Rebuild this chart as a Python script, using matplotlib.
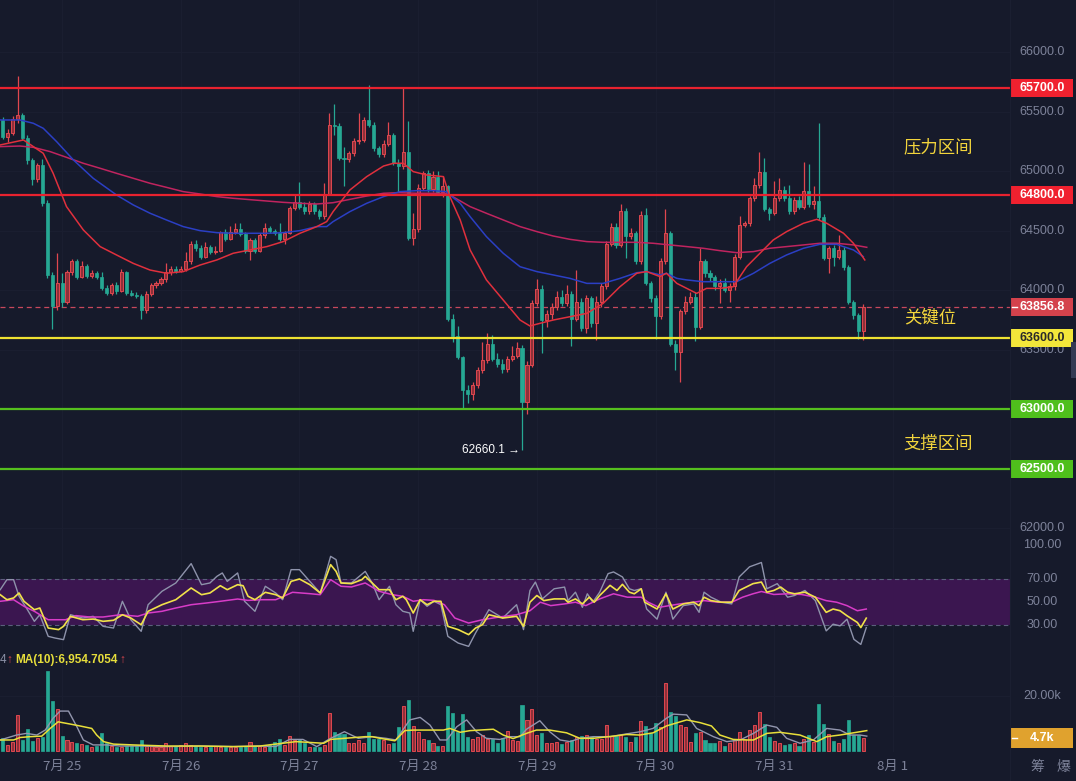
import numpy as np
import matplotlib
matplotlib.use("Agg")
import matplotlib.pyplot as plt
import matplotlib.transforms as mtrans
from matplotlib.patches import Rectangle
from matplotlib.lines import Line2D

plt.rcParams['font.family'] = ['Liberation Sans', 'Noto Sans CJK SC', 'DejaVu Sans']

# ---------------- data: 1h candles, 7/24 12:00 .. 7/31 18:00 (red = up, green = down) ----------------
opens = [65430, 65290, 65320, 65440, 65470, 65280, 65090, 64930, 65050, 64730,
         64130, 63870, 64060, 63900, 64150, 64240, 64110, 64200, 64120, 64140,
         64110, 64020, 63975, 64040, 63990, 64150, 63975, 63960, 63950, 63830,
         63970, 64040, 64060, 64090, 64150, 64180, 64160, 64180, 64240, 64390,
         64350, 64280, 64360, 64320, 64330, 64490, 64430, 64490, 64510, 64470,
         64330, 64420, 64330, 64460, 64520, 64500, 64480, 64430, 64480, 64690,
         64740, 64700, 64660, 64720, 64660, 64620, 64810, 65390, 65380, 65110,
         65100, 65150, 65250, 65260, 65430, 65390, 65190, 65140, 65230, 65300,
         65070, 65040, 65160, 64440, 64510, 64860, 64980, 64850, 64950, 64820,
         64870, 63760, 63610, 63440, 63160, 63130, 63200, 63330, 63410, 63550,
         63420, 63380, 63340, 63420, 63450, 63510, 63060, 63370, 63890, 64010,
         63750, 63800, 63860, 63940, 63890, 63970, 63760, 63900, 63680, 63930,
         63720, 63900, 64030, 64390, 64530, 64380, 64660, 64450, 64480, 64240,
         64630, 64060, 63930, 63780, 64240, 64480, 63550, 63480, 63820, 63900,
         63945, 63690, 64240, 64140, 64110, 64030, 64060, 64000, 64030, 64280,
         64550, 64560, 64770, 64880, 64990, 64680, 64650, 64770, 64840, 64770,
         64660, 64760, 64700, 64830, 64720, 64750, 64610, 64270, 64350, 64280,
         64340, 64190, 63900, 63790, 63660]
highs = [65450, 65350, 65460, 65800, 65490, 65300, 65110, 65070, 65100, 64760,
         64150, 64310, 64140, 64170, 64260, 64260, 64240, 64220, 64170, 64160,
         64150, 64040, 64060, 64070, 64180, 64160, 64000, 63980, 63970, 63990,
         64060, 64080, 64110, 64230, 64200, 64200, 64200, 64320, 64410, 64420,
         64380, 64400, 64380, 64370, 64500, 64510, 64540, 64560, 64560, 64490,
         64440, 64440, 64480, 64560, 64540, 64510, 64560, 64500, 64710, 64810,
         64910, 64740, 64750, 64740, 64680, 64900, 65490, 65560, 65400, 65200,
         65170, 65280, 65490, 65450, 65720, 65410, 65210, 65260, 65410, 65320,
         65100, 65700, 65420, 64650, 64890, 65000, 65010, 65000, 65000, 64960,
         64880, 63800, 63700, 63450, 63200, 63230, 63350, 63560, 63640, 63620,
         63470, 63420, 63450, 63530, 63560, 63540, 63400, 63920, 64090, 64040,
         63830, 63890, 63990, 64000, 64040, 63990, 64170, 63930, 63960, 63950,
         63950, 64060, 64410, 64560, 64560, 64720, 64690, 64520, 64500, 64660,
         64690, 64080, 63960, 64270, 64680, 64500, 63580, 63840, 63950, 63980,
         63980, 64350, 64260, 64170, 64130, 64090, 64100, 64060, 64300, 64620,
         64580, 64790, 64940, 65160, 65110, 64700, 64920, 64940, 64870, 64880,
         64780, 64790, 65080, 65060, 64870, 65400, 64640, 64370, 64380, 64460,
         64360, 64210, 63920, 63810, 63880]
lows = [65270, 65240, 65300, 65400, 65260, 65060, 64880, 64910, 64710, 64100,
        63670, 63830, 63860, 63880, 64130, 64090, 64100, 64100, 64100, 64090,
        64000, 63960, 63960, 63970, 63980, 63960, 63950, 63930, 63760, 63810,
        63950, 64020, 64040, 64070, 64130, 64140, 64150, 64160, 64220, 64330,
        64260, 64270, 64300, 64300, 64320, 64410, 64420, 64470, 64450, 64310,
        64250, 64310, 64320, 64440, 64480, 64460, 64410, 64390, 64470, 64670,
        64680, 64640, 64640, 64640, 64600, 64600, 64800, 65300, 65090, 64870,
        65080, 65130, 65230, 65240, 65370, 65170, 65120, 65120, 65210, 65050,
        64820, 65020, 64420, 64380, 64490, 64840, 64820, 64820, 64800, 64780,
        63740, 63560, 63420, 63000, 63050, 63080, 63180, 63300, 63390, 63400,
        63350, 63300, 63310, 63400, 63430, 62660.1, 62960, 63350, 63870, 63470,
        63690, 63760, 63830, 63870, 63870, 63530, 63740, 63660, 63640, 63690,
        63580, 63860, 64010, 64370, 64350, 64360, 64270, 64430, 64220, 64220,
        64040, 63900, 63590, 63760, 64220, 63530, 63330, 63230, 63800, 63880,
        63570, 63670, 64110, 64080, 64000, 63890, 63980, 63900, 64000, 64260,
        64530, 64540, 64750, 64860, 64660, 64590, 64630, 64750, 64750, 64640,
        64640, 64680, 64680, 64700, 64680, 64590, 64250, 64140, 64200, 64260,
        64170, 63880, 63760, 63590, 63580]
closes = [65290, 65320, 65440, 65470, 65280, 65090, 64930, 65050, 64730, 64130,
          63870, 64060, 63900, 64150, 64240, 64110, 64200, 64120, 64140, 64110,
          64020, 63975, 64040, 63990, 64150, 63975, 63960, 63950, 63830, 63970,
          64040, 64060, 64090, 64150, 64180, 64160, 64180, 64240, 64390, 64350,
          64280, 64360, 64320, 64330, 64490, 64430, 64490, 64510, 64470, 64330,
          64420, 64330, 64460, 64520, 64500, 64480, 64430, 64480, 64690, 64740,
          64700, 64660, 64720, 64660, 64620, 64810, 65390, 65380, 65110, 65100,
          65150, 65250, 65260, 65430, 65390, 65190, 65140, 65230, 65300, 65070,
          65040, 65160, 64440, 64510, 64860, 64980, 64850, 64950, 64820, 64870,
          63760, 63610, 63440, 63160, 63130, 63200, 63330, 63410, 63550, 63420,
          63380, 63340, 63420, 63450, 63510, 63060, 63370, 63890, 64010, 63750,
          63800, 63860, 63940, 63890, 63970, 63760, 63900, 63680, 63930, 63720,
          63900, 64030, 64390, 64530, 64380, 64660, 64450, 64480, 64240, 64630,
          64060, 63930, 63780, 64240, 64480, 63550, 63480, 63820, 63900, 63945,
          63690, 64240, 64140, 64110, 64030, 64060, 64000, 64030, 64280, 64550,
          64560, 64770, 64880, 64990, 64680, 64650, 64770, 64840, 64770, 64660,
          64760, 64700, 64830, 64720, 64750, 64610, 64270, 64350, 64280, 64340,
          64190, 63900, 63790, 63660, 63856.8]
volumes = [4.5, 2.1, 3.3, 13.0, 3.9, 7.8, 3.5, 4.5, 5.1, 29.0,
           18.1, 15.0, 5.3, 3.9, 3.3, 2.7, 2.3, 2.1, 1.5, 1.7,
           6.5, 2.7, 1.7, 1.5, 1.5, 1.7, 1.7, 1.7, 3.9, 1.7,
           1.7, 1.2, 1.5, 2.7, 1.7, 1.7, 2.1, 2.7, 2.1, 1.7,
           1.5, 1.5, 1.5, 1.7, 1.5, 1.2, 1.5, 1.2, 1.5, 1.7,
           3.1, 1.7, 1.7, 1.5, 2.1, 3.1, 4.1, 2.1, 5.3, 3.9,
           4.4, 2.7, 1.5, 1.2, 1.5, 2.2, 13.8, 6.9, 6.1, 6.1,
           2.7, 2.7, 3.9, 2.7, 6.9, 4.4, 4.4, 3.9, 2.4, 2.9,
           8.5, 16.2, 18.4, 9.0, 6.9, 4.2, 3.9, 2.9, 1.7, 1.7,
           16.2, 13.8, 6.9, 13.3, 5.1, 4.2, 5.1, 5.7, 4.1, 4.1,
           2.9, 4.5, 7.3, 3.9, 3.6, 16.6, 11.2, 15.2, 5.7, 6.5,
           2.9, 2.9, 3.3, 2.4, 3.3, 3.9, 5.1, 5.3, 5.7, 5.1,
           4.1, 4.1, 9.3, 5.3, 5.3, 5.7, 5.1, 3.3, 5.1, 10.9,
           9.0, 6.3, 9.9, 8.7, 24.7, 14.2, 12.6, 9.3, 8.5, 3.3,
           6.5, 6.9, 3.9, 2.7, 2.7, 3.6, 1.7, 2.9, 4.1, 6.9,
           4.1, 7.5, 9.3, 14.2, 9.7, 5.1, 3.6, 2.9, 2.1, 2.4,
           2.7, 1.7, 4.1, 5.7, 3.3, 16.8, 9.7, 6.1, 3.6, 2.7,
           4.1, 11.2, 5.7, 5.7, 4.7]   # thousands

# price moving averages (candle index, price)
ma_red_x = [-0.5, 4.2, 8.2, 10.2, 12.9, 16.3, 19.7, 23.0, 26.4, 29.8, 33.1, 36.5, 39.9, 43.3, 46.6,
            50.0, 53.4, 56.7, 60.1, 63.5, 65.5, 66.8, 70.2, 73.6, 77.0, 79.0, 81.0, 83.0, 85.7, 89.1,
            90.4, 92.5, 94.5, 97.8, 101.2, 104.6, 106.6, 108.6, 111.3, 114.7, 118.1, 121.4, 124.8,
            128.2, 130.2, 132.9, 134.2, 136.3, 138.3, 140.3, 142.3, 145.0, 147.7, 150.4, 153.1,
            155.8, 158.5, 161.9, 164.6, 166.6, 170.0, 172.0, 174.3]
ma_red_y = [65219, 65261, 65149, 64981, 64701, 64505, 64365, 64295, 64224, 64168, 64141, 64155, 64210,
            64253, 64309, 64337, 64365, 64407, 64477, 64533, 64575, 64659, 64841, 64953, 65042, 65065,
            65065, 64995, 64967, 64953, 64785, 64589, 64337, 64085, 63916, 63748, 63698, 63720, 63748,
            63776, 63804, 63888, 64028, 64141, 64155, 64113, 64141, 64056, 64014, 63972, 64014, 64014,
            64028, 64196, 64309, 64421, 64491, 64561, 64594, 64561, 64477, 64393, 64253]
ma_blue_x = [-0.5, 3.5, 6.2, 8.2, 10.9, 14.3, 18.3, 23.0, 26.4, 29.8, 33.1, 36.5, 39.9, 43.3, 46.6,
             53.4, 56.7, 60.1, 63.5, 65.5, 66.8, 70.2, 73.6, 77.0, 80.3, 83.7, 87.0, 89.7, 90.4, 92.5,
             94.5, 97.8, 101.2, 104.6, 108.0, 111.3, 114.7, 118.1, 121.4, 124.8, 128.2, 130.2, 132.9,
             134.2, 136.3, 138.3, 141.6, 145.0, 148.4, 151.8, 155.1, 158.5, 161.9, 165.2, 168.6,
             172.0, 174.0]
ma_blue_y = [65429, 65429, 65401, 65359, 65247, 65093, 64939, 64799, 64715, 64645, 64589, 64533, 64499,
             64482, 64477, 64477, 64482, 64499, 64533, 64533, 64575, 64659, 64729, 64785, 64827, 64835,
             64835, 64827, 64799, 64729, 64617, 64449, 64309, 64196, 64155, 64127, 64098, 64056, 64056,
             64098, 64146, 64155, 64127, 64141, 64098, 64085, 64070, 64070, 64070, 64141, 64224, 64295,
             64351, 64384, 64384, 64337, 64281]
ma_mag_x = [-0.5, 3.5, 6.2, 9.6, 12.9, 16.3, 19.7, 23.0, 26.4, 29.8, 33.1, 36.5, 39.9, 43.3, 46.6,
            53.4, 56.7, 60.1, 63.5, 66.8, 70.2, 73.6, 77.0, 80.3, 83.7, 87.0, 89.7, 90.4, 94.5, 97.8,
            101.2, 104.6, 108.0, 111.3, 114.7, 118.1, 121.4, 124.8, 128.2, 131.5, 134.9, 138.3, 141.6,
            145.0, 148.4, 151.8, 155.1, 158.5, 161.9, 165.2, 168.6, 172.0, 174.7]
ma_mag_y = [65205, 65210, 65199, 65163, 65115, 65065, 65023, 64981, 64939, 64897, 64863, 64827, 64807,
            64785, 64771, 64748, 64737, 64729, 64723, 64734, 64762, 64790, 64813, 64818, 64813, 64813,
            64813, 64799, 64701, 64645, 64589, 64533, 64491, 64454, 64426, 64407, 64401, 64401, 64401,
            64393, 64379, 64365, 64351, 64331, 64314, 64323, 64351, 64365, 64379, 64393, 64393, 64379,
            64359]

# RSI lines (candle index, value)
rsi_gray_x = [-0.5, 0.85, 2.2, 3.3, 5.0, 6.4, 7.5, 9.2, 10.6, 12.3, 13.7, 16.2, 18.3, 20.3, 22.4, 24.2,
              25.9, 28.0, 29.4, 32.2, 35.0, 38.1, 40.2, 41.9, 43.3, 44.4, 45.4, 47.5, 48.9, 51.0, 53.1,
              55.2, 56.6, 58.3, 60.0, 62.1, 64.2, 66.3, 67.4, 68.4, 70.5, 73.3, 74.7, 76.1, 78.2, 79.5,
              80.9, 82.3, 83.0, 84.4, 85.8, 87.2, 88.6, 90.0, 92.1, 94.2, 95.6, 98.3, 101.1, 103.9,
              105.3, 106.6, 107.7, 109.1, 111.5, 113.6, 114.3, 115.8, 117.2, 118.2, 119.3, 120.7, 122.4,
              123.5, 125.3, 126.7, 127.7, 129.1, 130.2, 132.3, 134.1, 135.5, 137.6, 139.7, 140.8, 141.8,
              143.2, 145.3, 147.4, 148.9, 151.0, 153.4, 154.5, 156.6, 158.7, 160.1, 162.2, 164.3, 166.5,
              167.9, 169.3, 170.7, 172.1, 173.5, 174.6]
rsi_gray = [60.6, 69.4, 69.4, 54.8, 43.0, 32.8, 38.6, 19.6, 18.1, 16.7, 38.6, 35.7, 37.2, 28.4, 26.9,
            50.4, 34.2, 24.0, 47.4, 59.2, 66.5, 83.5, 65.0, 66.5, 72.3, 75.3, 67.9, 75.3, 50.4, 41.6,
            63.6, 57.7, 51.8, 78.2, 78.2, 67.9, 57.7, 89.9, 87.0, 66.5, 66.5, 76.7, 66.5, 51.8, 63.6,
            47.4, 41.6, 40.1, 24.0, 51.8, 46.0, 50.4, 47.4, 19.6, 13.7, 10.8, 22.5, 43.0, 35.7, 47.4,
            25.5, 59.9, 67.3, 52.5, 61.4, 62.9, 51.0, 58.4, 45.1, 57.0, 49.6, 58.4, 74.7, 76.2, 71.8,
            61.4, 59.9, 61.4, 43.6, 34.7, 58.4, 34.7, 46.6, 48.1, 40.7, 58.4, 54.0, 49.6, 48.1, 71.8,
            80.7, 84.5, 61.4, 65.9, 54.0, 55.5, 59.9, 51.0, 24.4, 30.3, 28.8, 34.7, 17.0, 12.5, 27.3]
rsi_yel_x = [-0.5, 0.85, 2.2, 3.3, 4.3, 6.4, 7.5, 9.2, 11.3, 12.3, 13.7, 16.2, 18.3, 20.3, 22.4, 24.2,
             25.9, 28.0, 29.4, 32.2, 35.0, 38.1, 40.2, 41.9, 44.0, 45.4, 47.5, 48.6, 49.6, 51.0, 53.1,
             55.2, 56.6, 58.3, 60.0, 62.1, 64.2, 66.3, 67.4, 68.4, 70.5, 72.6, 73.3, 74.7, 76.1, 78.2,
             79.5, 80.9, 81.6, 83.0, 84.4, 85.8, 87.2, 88.6, 90.0, 92.1, 94.2, 95.6, 97.0, 98.3, 101.1,
             103.9, 105.3, 106.6, 108.0, 109.4, 111.5, 113.6, 114.3, 115.8, 117.2, 118.6, 119.6, 120.7,
             122.8, 124.2, 125.3, 126.7, 127.7, 129.1, 129.8, 132.3, 134.1, 135.5, 137.6, 139.7, 140.8,
             141.8, 143.2, 145.3, 147.4, 148.9, 151.7, 153.4, 154.5, 155.9, 157.3, 158.7, 160.1, 162.2,
             164.3, 166.5, 167.9, 169.3, 170.7, 172.8, 173.5, 174.6]
rsi_yel = [56.2, 51.8, 53.3, 57.7, 50.4, 43.0, 44.5, 26.9, 25.5, 28.4, 37.2, 34.2, 34.8, 32.8, 33.7,
           38.6, 35.7, 29.8, 41.6, 47.4, 51.8, 62.1, 56.2, 57.7, 64.1, 60.6, 65.0, 64.1, 54.8, 51.8,
           58.3, 56.2, 53.3, 67.9, 70.0, 65.0, 57.7, 82.6, 76.7, 66.5, 65.9, 69.4, 72.3, 66.5, 60.6,
           60.6, 51.8, 54.8, 51.8, 40.1, 51.8, 47.4, 50.4, 50.4, 28.4, 25.5, 21.1, 26.9, 29.8, 38.6,
           35.7, 37.2, 28.4, 49.6, 55.5, 51.0, 52.5, 52.5, 49.6, 52.5, 48.1, 54.0, 49.6, 55.5, 64.4,
           59.9, 65.3, 58.4, 57.0, 61.4, 49.6, 43.6, 57.0, 43.6, 48.1, 49.6, 46.6, 54.0, 51.0, 49.6,
           49.6, 59.9, 65.9, 67.3, 58.4, 59.9, 62.9, 58.4, 57.0, 58.4, 54.0, 40.7, 43.6, 42.1, 37.7,
           31.8, 27.3, 35.6]
rsi_mag_x = [-0.5, 2.2, 4.3, 6.4, 9.2, 12.7, 14.8, 17.6, 20.3, 23.8, 27.3, 29.4, 32.2, 35.0, 38.1, 41.2,
             44.0, 47.5, 49.6, 52.4, 55.2, 58.6, 62.1, 64.2, 66.3, 68.4, 70.5, 73.3, 76.1, 78.8, 80.9,
             83.0, 85.1, 87.2, 89.3, 91.4, 94.2, 97.0, 100.4, 103.9, 106.6, 108.7, 110.8, 113.6, 115.8,
             117.9, 120.7, 123.5, 126.3, 129.1, 130.5, 132.7, 134.8, 136.9, 139.7, 141.8, 144.6, 147.4,
             149.6, 151.7, 153.4, 155.9, 158.7, 161.5, 164.3, 166.5, 168.6, 170.7, 172.8, 174.6]
rsi_mag = [50.4, 51.8, 46.0, 41.6, 34.2, 34.2, 37.8, 36.6, 36.6, 38.6, 37.2, 40.1, 41.6, 44.5, 47.4,
           48.9, 50.4, 52.4, 51.2, 51.8, 51.8, 58.3, 57.1, 56.2, 69.4, 63.6, 63.0, 66.5, 59.2, 56.2,
           54.8, 50.4, 51.8, 51.2, 47.4, 35.7, 31.3, 34.2, 36.6, 38.6, 42.1, 49.6, 46.6, 48.1, 49.6,
           46.6, 52.5, 57.0, 54.0, 54.0, 49.6, 45.1, 46.6, 48.1, 49.6, 51.0, 49.6, 49.6, 54.0, 57.0,
           59.0, 56.4, 57.0, 56.4, 54.0, 51.0, 49.6, 46.6, 42.1, 43.6]

# volume moving averages (candle index, thousands)
vma5_x = [-0.5, 2.8, 4.8, 6.9, 8.6, 10.2, 11.6, 13.3, 15.0, 16.3, 18.3, 21.0, 23.7, 27.8, 33.1, 39.9,
          46.6, 52.0, 55.2, 58.0, 60.7, 63.5, 66.3, 69.1, 71.9, 74.7, 77.5, 79.5, 82.3, 84.4, 86.4, 88.4,
          89.8, 91.8, 93.8, 95.8, 97.8, 100.5, 102.6, 104.6, 105.9, 108.6, 110.6, 112.7, 114.7, 116.7,
          119.4, 122.8, 126.1, 128.9, 131.5, 134.2, 135.6, 138.3, 140.3, 143.7, 146.4, 149.1, 151.8,
          154.5, 156.5, 158.5, 161.2, 163.9, 166.6, 169.3, 171.3, 173.3, 174.7]
vma5 = [3.9, 5.7, 6.3, 5.7, 7.5, 11.8, 14.4, 14.4, 8.7, 3.9, 2.1, 2.1, 1.7, 1.7, 1.5, 1.7, 1.5, 1.7,
        1.5, 4.1, 4.1, 1.5, 4.5, 6.9, 4.5, 5.1, 4.5, 3.9, 11.2, 12.1, 9.3, 3.9, 3.9, 8.7, 11.2, 6.9,
        4.5, 4.1, 5.1, 5.1, 7.8, 10.9, 6.9, 3.9, 3.3, 4.5, 5.1, 5.1, 6.1, 6.9, 8.1, 11.8, 13.3, 13.0,
        8.1, 5.1, 3.3, 3.9, 6.3, 9.3, 8.5, 4.5, 2.7, 3.9, 8.1, 7.5, 5.7, 5.7, 5.3]
vma10_x = [-0.5, 2.2, 3.5, 5.5, 7.9, 9.6, 11.2, 13.6, 15.6, 18.0, 19.0, 20.4, 22.4, 26.4, 33.1, 39.9,
           46.6, 52.0, 53.8, 56.6, 59.3, 64.9, 66.3, 69.1, 73.3, 74.7, 76.3, 79.3, 81.3, 83.0, 86.4,
           89.1, 90.4, 92.5, 94.5, 99.2, 101.2, 103.2, 105.9, 107.9, 110.6, 114.0, 116.7, 119.4, 123.5,
           126.1, 128.8, 131.5, 134.2, 138.3, 141.0, 143.3, 145.0, 147.7, 150.4, 151.8, 154.5, 157.1,
           161.2, 164.6, 166.6, 169.3, 172.0, 174.7]
vma10 = [3.9, 3.9, 4.8, 5.1, 5.3, 8.1, 10.5, 9.7, 9.0, 8.1, 5.7, 3.3, 2.4, 2.1, 1.7, 1.7, 1.5, 1.7,
         2.1, 2.7, 3.3, 2.7, 4.1, 4.5, 5.1, 5.1, 4.5, 3.6, 7.3, 7.5, 7.5, 7.5, 8.1, 6.7, 7.3, 7.8, 5.7,
         4.4, 6.3, 7.5, 7.5, 6.5, 4.5, 4.5, 5.3, 5.9, 5.7, 6.5, 9.0, 11.2, 10.2, 9.0, 5.7, 4.1, 3.9,
         3.9, 6.3, 6.7, 5.7, 3.3, 5.1, 5.7, 6.5, 7.3]

day_labels = ["7月 25", "7月 26", "7月 27", "7月 28", "7月 29", "7月 30", "7月 31", "8月 1"]
price_ticks = [62000, 62500, 63000, 63500, 64000, 64500, 65000, 65500, 66000]
resist_levels = [65700, 64800]
key_level = 63600
support_levels = [63000, 62500]
last_price = 63856.8
low_price = 62660.1
last_volume = 4.7

# ---------------- style ----------------
W, H = 1076, 781
BG = "#161a2b"
GRID = "#1a1e30"
AXTXT = "#7d8299"
UP_FACE, UP_EDGE = "#8e3039", "#e0474f"
DN = "#26a893"
RED_L, YEL_L, GRN_L = "#e8222f", "#efe232", "#55bf1e"
CJK = ['Noto Sans CJK SC', 'DejaVu Sans']

fig = plt.figure(figsize=(W / 100, H / 100), dpi=100, facecolor=BG)

def pane(y0, y1):
    ax = fig.add_axes([0, 1 - y1 / H, 1010 / W, (y1 - y0) / H])
    ax.set_facecolor(BG)
    for s in ax.spines.values():
        s.set_visible(False)
    ax.set_xticks([]); ax.set_yticks([])
    return ax

ax_p = pane(0, 537)
ax_r = pane(537, 650)
ax_v = pane(650, 752)

k = np.arange(len(closes))
o, h, l, c = (np.array(a, float) for a in (opens, highs, lows, closes))
up = c >= o
XL = (-0.546, 203.66)
day_pos = [12 + 24 * i for i in range(len(day_labels))]

for ax in (ax_p, ax_r, ax_v):
    for d in day_pos:
        ax.axvline(d, color=GRID, lw=0.8, zorder=0)
for p in price_ticks:
    ax_p.axhline(p, color=GRID, lw=0.8, zorder=0)
ax_v.axhline(20, color=GRID, lw=0.8, zorder=0)

# ---- price pane ----
ax_p.vlines(k[up], l[up], h[up], color=UP_EDGE, lw=0.9, zorder=3)
ax_p.vlines(k[~up], l[~up], h[~up], color=DN, lw=0.9, zorder=3)
body = np.maximum(np.abs(c - o), 8)
bot = np.minimum(o, c)
ax_p.bar(k[up], body[up], bottom=bot[up], width=0.62, color=UP_FACE, edgecolor=UP_EDGE, lw=0.7, zorder=4)
ax_p.bar(k[~up], body[~up], bottom=bot[~up], width=0.62, color=DN, edgecolor=DN, lw=0.5, zorder=4)

ax_p.plot(ma_mag_x, ma_mag_y, color="#c0245f", lw=1.1, zorder=5)
ax_p.plot(ma_blue_x, ma_blue_y, color="#2b3fc4", lw=1.1, zorder=5)
ax_p.plot(ma_red_x, ma_red_y, color="#e0303d", lw=1.1, zorder=5)

for p in resist_levels:
    ax_p.axhline(p, color=RED_L, lw=1.6, zorder=6)
ax_p.axhline(key_level, color=YEL_L, lw=1.6, zorder=6)
for p in support_levels:
    ax_p.axhline(p, color=GRN_L, lw=1.6, zorder=6)
ax_p.axhline(last_price, color="#c8485c", lw=0.9, ls=(0, (4, 3)), zorder=2)

ilow = int(np.argmin(l))
ax_p.text(ilow - 0.5, low_price, f"{low_price:.1f} \u2192", color="white", fontsize=8.5,
          ha="right", va="center", zorder=8)

ax_p.set_xlim(*XL); ax_p.set_ylim(61925, 66437)

# ---- right price scale ----
tr_p = mtrans.blended_transform_factory(fig.transFigure, ax_p.transData)
for p in price_ticks:
    ax_p.text(1042 / W, p, f"{p:.1f}", transform=tr_p, color=AXTXT, fontsize=9,
              ha="center", va="center", zorder=7, clip_on=False)

def box(ax, tr, y, half, txt, fc, tc, tick=False):
    ax.add_patch(Rectangle((1010 / W, y - half), 63 / W, 2 * half, transform=tr, facecolor=fc,
                           edgecolor="none", zorder=10, clip_on=False))
    ax.text(1042 / W, y, txt, transform=tr, color=tc, fontsize=9, fontweight="bold",
            ha="center", va="center", zorder=11, clip_on=False)
    if tick:
        ax.add_line(Line2D([1012 / W, 1017 / W], [y, y], transform=tr, color="white", lw=1,
                           zorder=12, clip_on=False))

for p in resist_levels:
    box(ax_p, tr_p, p, 76, f"{p:.1f}", "#f0212f", "white")
box(ax_p, tr_p, last_price, 76, f"{last_price:.1f}", "#d4424c", "white", tick=True)
box(ax_p, tr_p, key_level, 76, f"{key_level:.1f}", "#f3e63a", "#2a2a2a")
for p in support_levels:
    box(ax_p, tr_p, p, 76, f"{p:.1f}", "#4fbf1c", "white")

# zone notes
for txt, xp, yp in [("压力区间", 938, 147), ("关键位", 930, 317), ("支撑区间", 938, 444)]:
    fig.text(xp / W, 1 - yp / H, txt, color="#f3d53c", fontsize=12.5, family=CJK,
             ha="center", va="center")

# ---- RSI pane ----
ax_r.axhspan(30, 70, color="#3b1650", lw=0, zorder=1)
for v in (30, 70):
    ax_r.axhline(v, color="#5b5f7c", lw=0.8, ls=(0, (4, 3)), zorder=2)
ax_r.plot(rsi_gray_x, rsi_gray, color="#8e93ab", lw=1.0, zorder=3)
ax_r.plot(rsi_mag_x, rsi_mag, color="#d83cc8", lw=1.1, zorder=4)
ax_r.plot(rsi_yel_x, rsi_yel, color="#f1e24a", lw=1.2, zorder=5)
ax_r.set_xlim(*XL); ax_r.set_ylim(7.6, 106.9)
tr_r = mtrans.blended_transform_factory(fig.transFigure, ax_r.transData)
for v in (100, 70, 50, 30):
    ax_r.text(1042 / W, v, f"{v:.2f}", transform=tr_r, color=AXTXT, fontsize=9,
              ha="center", va="center", clip_on=False)

# ---- volume pane ----
vol = np.array(volumes)
ax_v.bar(k[up], vol[up], width=0.62, color=UP_FACE, edgecolor=UP_EDGE, lw=0.7, zorder=3)
ax_v.bar(k[~up], vol[~up], width=0.62, color=DN, edgecolor=DN, lw=0.5, zorder=3)
ax_v.plot(vma5_x, vma5, color="#9296ae", lw=1.0, zorder=4)
ax_v.plot(vma10_x, vma10, color="#e8df3a", lw=1.1, zorder=5)
ax_v.set_xlim(*XL); ax_v.set_ylim(-0.47, 36.6)
tr_v = mtrans.blended_transform_factory(fig.transFigure, ax_v.transData)
ax_v.text(1042 / W, 20, "20.00k", transform=tr_v, color=AXTXT, fontsize=9,
          ha="center", va="center", clip_on=False)
box(ax_v, tr_v, last_volume, 3.6, f"{last_volume}k", "#e0a22e", "white", tick=True)

yv = 1 - 660 / H
fig.text(0, yv, "4", color="#8a8fa5", fontsize=8.5, va="center")
fig.text(6 / W, yv, "\u2191", color="#d9454d", fontsize=8.5, va="center")
t_ma = fig.text(15 / W, yv, "MA(10):6,954.7054", color="#e6dd3b", fontsize=8.5,
                fontweight="bold", va="center")
plt.annotate("\u2191", xy=(1, 0.5), xycoords=t_ma, xytext=(1.5, 0), textcoords="offset points",
             color="#d9454d", fontsize=8.5, ha="left", va="center")

# ---- time axis ----
tr_x = mtrans.blended_transform_factory(ax_v.transData, fig.transFigure)
for d, lab in zip(day_pos, day_labels):
    ax_v.text(d, 1 - 766 / H, lab, transform=tr_x, color=AXTXT, fontsize=9.5, family=CJK,
              ha="center", va="center", clip_on=False)
fig.text(1037 / W, 1 - 767 / H, "筹", color=AXTXT, fontsize=10, family=CJK, ha="center", va="center")
fig.text(1063 / W, 1 - 767 / H, "爆", color=AXTXT, fontsize=10, family=CJK, ha="center", va="center")

# scale separator and scroll tab
fig.add_artist(Line2D([1010 / W, 1010 / W], [0, 1], transform=fig.transFigure, color="#1b1f31", lw=0.8))
fig.add_artist(Rectangle((1071 / W, 1 - 378 / H), 5 / W, 36 / H, transform=fig.transFigure,
                         facecolor="#353b53", edgecolor="none"))

fig.savefig("out.png", dpi=100, facecolor=BG)
